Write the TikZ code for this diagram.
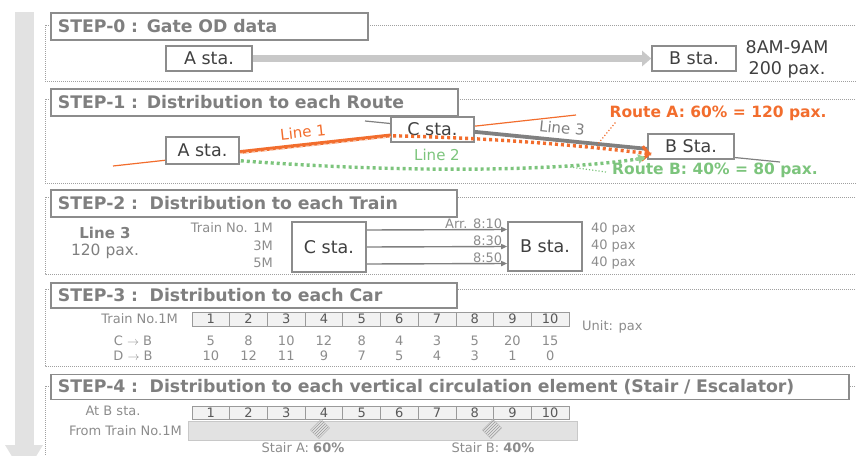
\documentclass[tikz,border=0pt]{standalone}
\usepackage{fontspec}
\setmainfont{DejaVu Sans}
\usepackage{tikz}
\usetikzlibrary{arrows.meta,calc,positioning,patterns}
\definecolor{titlegray}{HTML}{7F7F7F}
\definecolor{boxgray}{HTML}{8C8C8C}
\definecolor{stadark}{HTML}{404040}
\definecolor{txtgray}{HTML}{8C8C8C}
\definecolor{framegray}{HTML}{A0A0A0}
\definecolor{routeA}{HTML}{F26D2D}
\definecolor{routeB}{HTML}{7CC47C}
\definecolor{line3gray}{HTML}{808080}
\definecolor{odgray}{HTML}{C8C8C8}
\definecolor{flowgray}{HTML}{E2E2E2}
\definecolor{cellfill}{HTML}{F2F2F2}
\definecolor{cellgray}{HTML}{9A9A9A}
\definecolor{celltxt}{HTML}{595959}

\begin{document}
\begin{tikzpicture}[x=1pt,y=-1pt,
  titlebox/.style={draw=boxgray,line width=1.6,fill=white,text=titlegray,anchor=north west,
    inner xsep=7,inner ysep=0,minimum height=27,align=left,font=\bfseries\fontsize{17.3}{17.3}\selectfont},
  sta/.style={draw=boxgray,line width=1.6,fill=white,text=stadark,inner sep=0,font=\fontsize{17.5}{17.5}\selectfont},
  stepframe/.style={draw=framegray,line width=0.7,dash pattern=on 1pt off 1pt},
  smalltxt/.style={text=txtgray,font=\fontsize{13}{13}\selectfont,inner sep=1},
  cell/.style={draw=cellgray,line width=0.7,fill=cellfill,minimum width=37.7,minimum height=14,
    inner sep=0,text=celltxt,font=\fontsize{13}{13}\selectfont},
  trainarr/.style={draw=line3gray,line width=1.4,-{Triangle[length=6,width=5]}},
]
\useasboundingbox (0,0) rectangle (856,455);
\clip (0,0) rectangle (856,455);

% flow arrow on the left
\fill[flowgray] (15,12) rectangle (34,447);
\fill[flowgray] (5,445) -- (43,445) -- (24,476) -- cycle;

% dotted frames of the steps
\draw[stepframe] (45,25) rectangle (860,81);
\draw[stepframe] (45,99) rectangle (860,183);
\draw[stepframe] (45,197) rectangle (860,274);
\draw[stepframe] (45,289) rectangle (860,366);
\draw[stepframe] (45,386) rectangle (860,480);

%%% STEP-0
\node[titlebox,text width=303] (s0) at (50,12) {STEP-0 : Gate OD data};
\node[sta,minimum width=86,minimum height=25] (A0) at (209,58.5) {A sta.};
\node[sta,minimum width=84,minimum height=25] (B0) at (694,58.5) {B sta.};
\draw[odgray,line width=7.5,-{Triangle[length=9,width=15]}] (A0.east) -- (B0.west);
\node[text=stadark,font=\fontsize{17.5}{17.5}\selectfont,inner sep=0] (od1) at (787,47) {8AM-9AM};
\node[text=stadark,font=\fontsize{17.5}{17.5}\selectfont,inner sep=0] (od2) at (787,70) {200 pax.};

%%% STEP-1
\node[titlebox,text width=393] (s1) at (50,88) {STEP-1 : Distribution to each Route};
\coordinate (l1a) at (113,166);
\coordinate (l1b) at (576,115);
\coordinate (l3a) at (365,121);
\coordinate (l3b) at (780,162);
\draw[routeA,line width=1.2] (l1a) -- (l1b);
\draw[line3gray,line width=1.2] (l3a) -- (l3b);
\node[sta,minimum width=73,minimum height=27] (A1) at (202.5,150.5) {A sta.};
\node[sta,minimum width=83,minimum height=25] (C1) at (432.5,129.5) {C sta.};
\node[sta,minimum width=86,minimum height=25] (B1) at (691,146.5) {B Sta.};
\draw[routeA,line width=3.8] ($(l1a)!(A1.east)!(l1b)$) -- ($(l1a)!(C1.west)!(l1b)$);
\draw[routeA!35,line width=1.2,dash pattern=on 3 off 3] ($(l1a)!(A1.east)!(l1b)+(0,1.6)$) -- ($(l1a)!(C1.west)!(l1b)+(0,1.6)$);
\draw[line3gray,line width=3.8] ($(l3a)!(C1.east)!(l3b)$) -- ($(l3a)!(B1.west)!(l3b)$);
% route A and route B
\draw[routeA,line width=3.4,dash pattern=on 3 off 3]
  ([shift={(3,-7)}]C1.south west) .. controls +(90,2) and +(-80,-10) .. ([shift={(4,7.5)}]B1.west);
\draw[routeA,line width=3,-{Straight Barb[length=7,width=14]}] ([shift={(-2,7)}]B1.west) -- ([shift={(4,7.5)}]B1.west);
\draw[routeB,line width=3.4,dash pattern=on 3 off 3]
  ([shift={(1,-4)}]A1.south east) .. controls +(160,12) and +(-85,14) .. ([shift={(-3,11.5)}]B1.west);
\draw[routeB!80,line width=2.4,-{Triangle[length=7,width=9]}] ([shift={(-12,13)}]B1.west) -- ([shift={(-2,11)}]B1.west);
\node[text=routeA,font=\fontsize{15}{15}\selectfont,rotate=6.3,inner sep=0] (ln1) at (303,132) {Line 1};
\node[text=routeB,font=\fontsize{15}{15}\selectfont,inner sep=0] (ln2) at (437,155) {Line 2};
\node[text=line3gray,font=\fontsize{15}{15}\selectfont,rotate=-6,inner sep=0] (ln3) at (562,128) {Line 3};
\node[text=routeA,font=\bfseries\fontsize{15.5}{15.5}\selectfont,inner sep=0] (rA) at (718,113) {Route A: 60\% = 120 pax.};
\node[text=routeB,font=\bfseries\fontsize{15.5}{15.5}\selectfont,inner sep=0] (rB) at (715,170) {Route B: 40\% = 80 pax.};
\coordinate (raPt) at (597,145);
\coordinate (rbPt) at (570,167);
\draw[routeA,line width=1.2,dotted] ([shift={(6,2)}]rA.south west) -- (raPt);
\draw[routeB,line width=1.2,dotted] ([shift={(-6,2)}]rB.west) -- (rbPt);

%%% STEP-2
\node[titlebox,text width=392] (s2) at (50,189) {STEP-2 :\ \ Distribution to each Train};
\node[text=titlegray,font=\bfseries\fontsize{15}{15}\selectfont,inner sep=0] (tl3) at (105,233) {Line 3};
\node[text=titlegray,font=\fontsize{15.5}{15.5}\selectfont,inner sep=0] (tpax) at (105,251) {120 pax.};
\node[smalltxt,anchor=east] (tn1) at (274,228) {Train No. 1M};
\node[smalltxt,anchor=east] (tn3) at (274,246) {3M};
\node[smalltxt,anchor=east] (tn5) at (274,263) {5M};
\node[sta,minimum width=74,minimum height=50] (C2) at (329,247) {C sta.};
\node[sta,minimum width=74,minimum height=49] (B2) at (545,246.5) {B sta.};
\foreach \s/\t in {17/Arr. 8:10,0/8:30,-17/8:50}{
  \draw[trainarr] ([yshift=\s]C2.east) -- ([yshift=\s]B2.west)
    node[smalltxt,pos=1,anchor=south east,inner sep=0.3,xshift=-4] {\t};
  \node[smalltxt,anchor=west] at ([xshift=7,yshift=\s]B2.east) {40 pax};
}

%%% STEP-3
\node[titlebox,text width=392,minimum height=25] (s3) at (50,282) {STEP-3 :\ \ Distribution to each Car};
\node[smalltxt,anchor=east] (car) at (179,319) {Train No.1M};
\node[smalltxt] (cb) at (133,341) {C $\rightarrow$ B};
\node[smalltxt] (db) at (133,356) {D $\rightarrow$ B};
\foreach \i/\c/\d in {1/5/10,2/8/12,3/10/11,4/12/9,5/8/7,6/4/5,7/3/4,8/5/3,9/20/1,10/15/0}{
  \node[cell] (h\i) at ({192+37.7*(\i-0.5)},319) {\i};
  \node[smalltxt] at (h\i |- cb) {\c};
  \node[smalltxt] at (h\i |- db) {\d};
}
\node[smalltxt,anchor=west] (unit) at (581,327) {Unit: pax};

%%% STEP-4
\node[titlebox,text width=784,minimum height=25] (s4) at (50,373.5) {STEP-4 :\ \ Distribution to each vertical circulation element (Stair / Escalator)};
\node[draw=odgray,line width=0.6,fill=flowgray,minimum width=389,minimum height=19,inner sep=0,anchor=north west] (bar) at (188,421) {};
\foreach \i in {1,...,10}{
  \node[cell,minimum height=13] (k\i) at ({192+37.7*(\i-0.5)},412.5) {\i};
}
\node[smalltxt] (atb) at (113,411) {At B sta.};
\node[smalltxt,anchor=east] (from) at (183,431) {From Train No.1M};
\foreach \x/\n in {320/sA,492/sB}{
  \node[draw=cellgray!70,line width=0.5,fill=white,pattern=north east lines,pattern color=cellgray,
    rotate=45,minimum width=15,minimum height=12,inner sep=0] (\n) at (\x,429) {};
}
\node[smalltxt,font=\fontsize{13}{13}\selectfont] (lsA) at (303,448) {Stair A: \textbf{60\%}};
\node[smalltxt,font=\fontsize{13}{13}\selectfont] (lsB) at (493,448) {Stair B: \textbf{40\%}};
\end{tikzpicture}
\end{document}
